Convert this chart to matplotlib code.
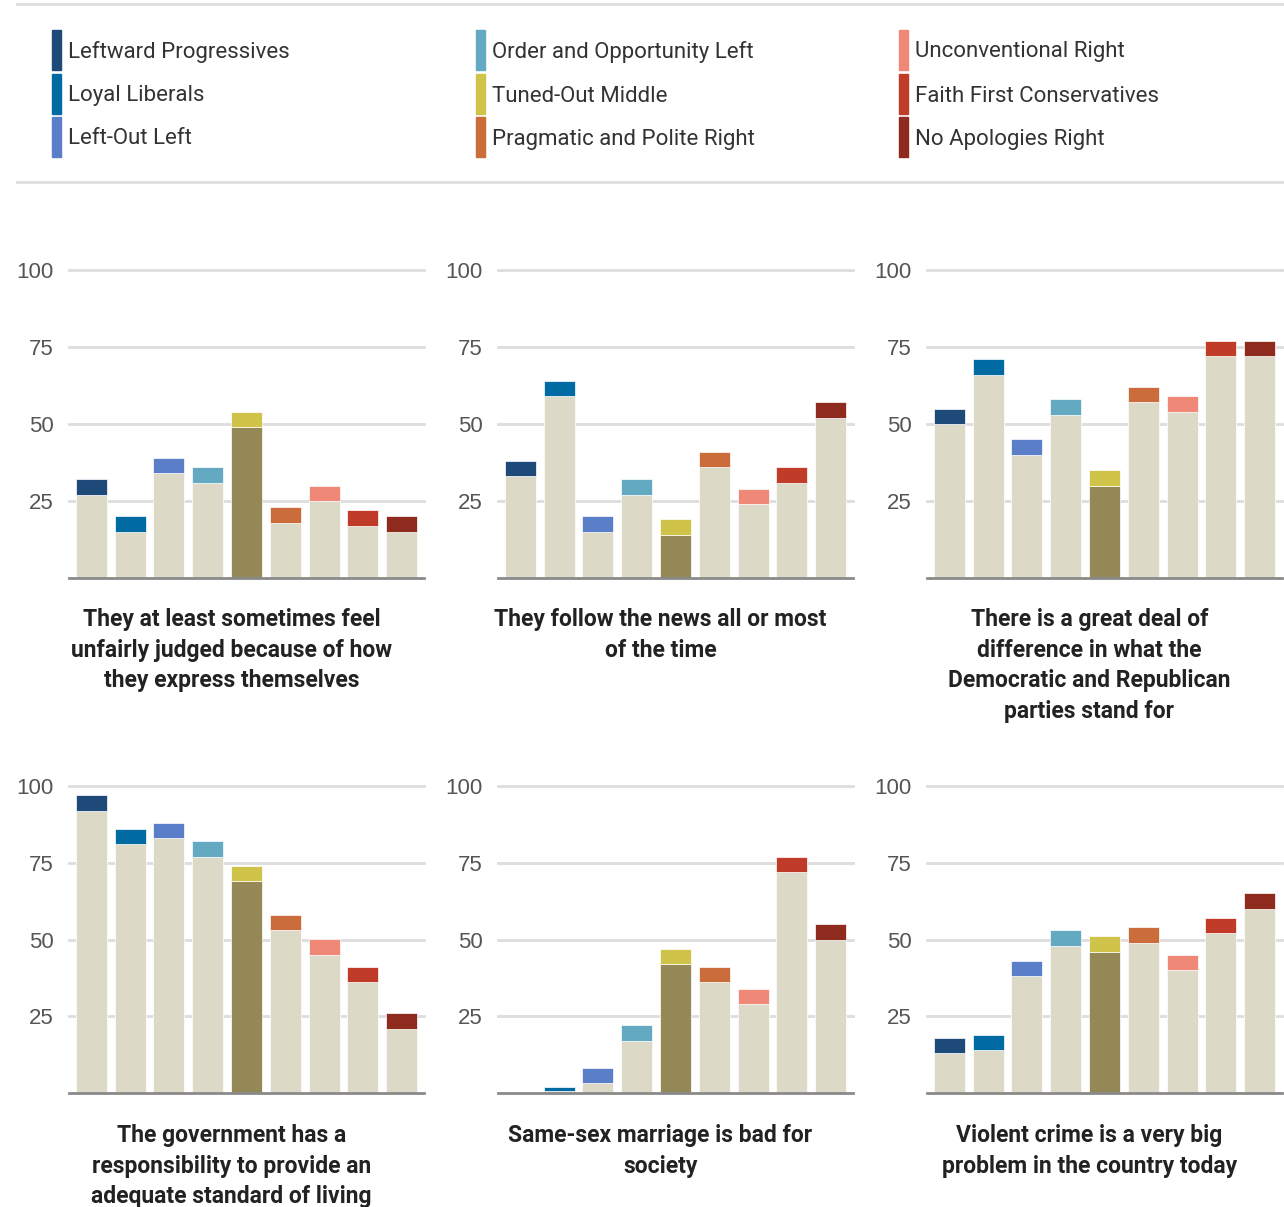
import matplotlib
matplotlib.use("Agg")
import matplotlib.pyplot as plt
from matplotlib.patches import Rectangle
from matplotlib.lines import Line2D

W, H = 1284, 1207

groups = [
    "Leftward Progressives", "Loyal Liberals", "Left-Out Left",
    "Order and Opportunity Left", "Tuned-Out Middle", "Pragmatic and Polite Right",
    "Unconventional Right", "Faith First Conservatives", "No Apologies Right",
]
group_colors = [
    "#1d4a79", "#006aa3", "#5a7ec8",
    "#62a9c1", "#cfc349", "#cb6c3b",
    "#f08878", "#c03b28", "#8f2a1e",
]

titles = [
    "They at least sometimes feel\nunfairly judged because of how\nthey express themselves",
    "They follow the news all or most\nof the time",
    "There is a great deal of\ndifference in what the\nDemocratic and Republican\nparties stand for",
    "The government has a\nresponsibility to provide an\nadequate standard of living",
    "Same-sex marriage is bad for\nsociety",
    "Violent crime is a very big\nproblem in the country today",
]

unfairly_judged = [32, 20, 39, 36, 54, 23, 30, 22, 20]
follow_news = [38, 64, 20, 32, 19, 41, 29, 36, 57]
party_difference = [55, 71, 45, 58, 35, 62, 59, 77, 77]
gov_responsibility = [97, 86, 88, 82, 74, 58, 50, 41, 26]
same_sex_bad = [0, 2, 8, 22, 47, 41, 34, 77, 55]
violent_crime = [18, 19, 43, 53, 51, 54, 45, 57, 65]

panels = [unfairly_judged, follow_news, party_difference,
          gov_responsibility, same_sex_bad, violent_crime]

BEIGE = "#dcd9c7"
OLIVE = "#938856"
CAP = 5
HIGHLIGHT = 4  # Tuned-Out Middle

text_font = ["Roboto", "DejaVu Sans"]
tick_font = ["Liberation Sans", "DejaVu Sans"]

fig = plt.figure(figsize=(W / 100, H / 100), dpi=100)


def fx(px):
    return px / W


def fy(py):
    return 1 - py / H


# legend block with rules above and below
for yl in (4, 182):
    fig.add_artist(Line2D([fx(17), 1], [fy(yl), fy(yl)], color="#dedede", lw=2))

col_x = [52, 476, 899]
row_y = [50, 94, 137]
for i, (name, c) in enumerate(zip(groups, group_colors)):
    cx = col_x[i // 3]
    ry = row_y[i % 3]
    fig.add_artist(Rectangle((fx(cx), fy(ry + 20)), fx(9), 40 / H, color=c,
                             transform=fig.transFigure))
    fig.text(fx(cx + 16), fy(ry + 2), name, family=text_font, fontsize=16,
             color="#333333", va="center", ha="left")

ax_left = [69, 498, 927]
ax_w = 355
rows = [(270, 578, 608), (786, 1093, 1124)]

for k, vals in enumerate(panels):
    top, base, title_y = rows[k // 3]
    left = ax_left[k % 3]
    ax = fig.add_axes([fx(left), fy(base), fx(ax_w), (base - top) / H])
    xs = list(range(len(vals)))
    body = [max(v - CAP, v * 0.4) for v in vals]
    cap = [v - b for v, b in zip(vals, body)]
    body_colors = [OLIVE if i == HIGHLIGHT else BEIGE for i in xs]
    ax.bar(xs, body, width=0.8, color=body_colors, edgecolor="white",
           linewidth=0.5, zorder=2)
    ax.bar(xs, cap, bottom=body, width=0.8, color=group_colors,
           edgecolor="white", linewidth=0.5, zorder=2)
    ax.set_xlim(-0.58, 8.58)
    ax.set_ylim(0, 100)
    ax.set_yticks([25, 50, 75, 100])
    ax.set_yticklabels(["25", "50", "75", "100"], family=tick_font,
                       fontsize=16, color="#555555")
    ax.tick_params(axis="y", length=0, pad=11)
    ax.set_xticks([])
    for g in (25, 50, 75, 100):
        ax.axhline(g, color="#dddddd", lw=2, zorder=1, clip_on=False)
    ax.axhline(0, color="#8a8a8a", lw=2, zorder=3, clip_on=False)
    for s in ax.spines.values():
        s.set_visible(False)
    ax.patch.set_alpha(0)
    fig.text(fx(left + ax_w / 2 - 15), fy(title_y), titles[k], family=text_font,
             fontsize=16.5, fontweight="bold", color="#222222", ha="center",
             va="top", linespacing=1.42)

fig.savefig("out.png", dpi=100, facecolor="white")
